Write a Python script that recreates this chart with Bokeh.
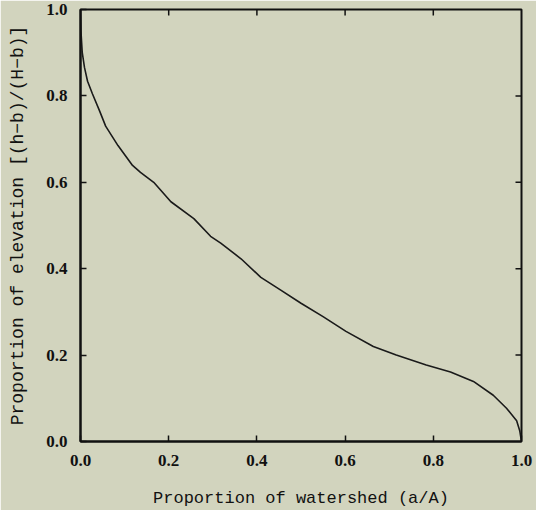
import math
from bokeh.plotting import figure
from bokeh.models import Range1d, FixedTicker
from bokeh.embed import file_html
from bokeh.resources import INLINE

# Hypsometric curve: proportion of watershed (a/A) vs proportion of elevation
area = [0.0, 0.001, 0.004, 0.009, 0.016, 0.027, 0.043, 0.057, 0.085, 0.118, 0.136,
        0.166, 0.18, 0.205, 0.257, 0.295, 0.318, 0.364, 0.409, 0.455, 0.5,
        0.55, 0.602, 0.664, 0.716, 0.784, 0.839, 0.891, 0.936, 0.966, 0.989, 0.996, 1.0]
elev = [1.0, 0.95, 0.9, 0.866, 0.834, 0.805, 0.766, 0.73, 0.685, 0.639, 0.623,
        0.6, 0.584, 0.555, 0.516, 0.475, 0.459, 0.423, 0.38, 0.35, 0.32,
        0.289, 0.255, 0.22, 0.2, 0.177, 0.161, 0.139, 0.107, 0.077, 0.048, 0.025, 0.0]
ticks = [0.0, 0.2, 0.4, 0.6, 0.8, 1.0]
tick_labels = {0.0: "0.0", 0.2: "0.2", 0.4: "0.4", 0.6: "0.6", 0.8: "0.8", 1.0: "1.0"}

BG = "#d2d4be"
INK = "#111111"

p = figure(width=536, height=510, output_backend="svg", toolbar_location=None,
           x_range=Range1d(0, 1), y_range=Range1d(0, 1),
           min_border_left=80, min_border_right=15, min_border_top=9, min_border_bottom=64,
           background_fill_color=BG, border_fill_color=BG)
p.grid.visible = False
p.outline_line_color = INK
p.outline_line_width = 2

p.line(area, elev, line_color="#1a1a1a", line_width=1.6)

# mirrored inward ticks on the top and right edges
inner = ticks[1:-1]
p.ray(x=inner, y=[ticks[-1]] * len(inner), length=6, length_units="screen",
      angle=-math.pi / 2, line_color=INK, line_width=1.5)
p.ray(x=[ticks[-1]] * len(inner), y=inner, length=6, length_units="screen",
      angle=math.pi, line_color=INK, line_width=1.5)

for ax in (p.xaxis[0], p.yaxis[0]):
    ax.ticker = FixedTicker(ticks=ticks)
    ax.major_label_overrides = tick_labels
    ax.major_tick_in = 6
    ax.major_tick_out = 0
    ax.minor_tick_line_color = None
    ax.axis_line_color = INK
    ax.axis_line_width = 2
    ax.major_tick_line_color = INK
    ax.major_tick_line_width = 1.5
    ax.major_label_text_font = "Liberation Serif"
    ax.major_label_text_font_style = "bold"
    ax.major_label_text_font_size = "17px"
    ax.major_label_text_color = INK
    ax.major_label_standoff = 13
    ax.axis_label_text_font = "Liberation Mono"
    ax.axis_label_text_font_style = "normal"
    ax.axis_label_text_color = INK

p.xaxis[0].axis_label = "Proportion of watershed (a/A)"
p.xaxis[0].axis_label_text_font_size = "17px"
p.xaxis[0].axis_label_standoff = 20
p.yaxis[0].axis_label = "Proportion of elevation [(h\u2212b)/(H\u2212b)]"
p.yaxis[0].axis_label_text_font_size = "18px"
p.yaxis[0].axis_label_standoff = 15

open("out.html", "w").write(file_html(p, INLINE))
